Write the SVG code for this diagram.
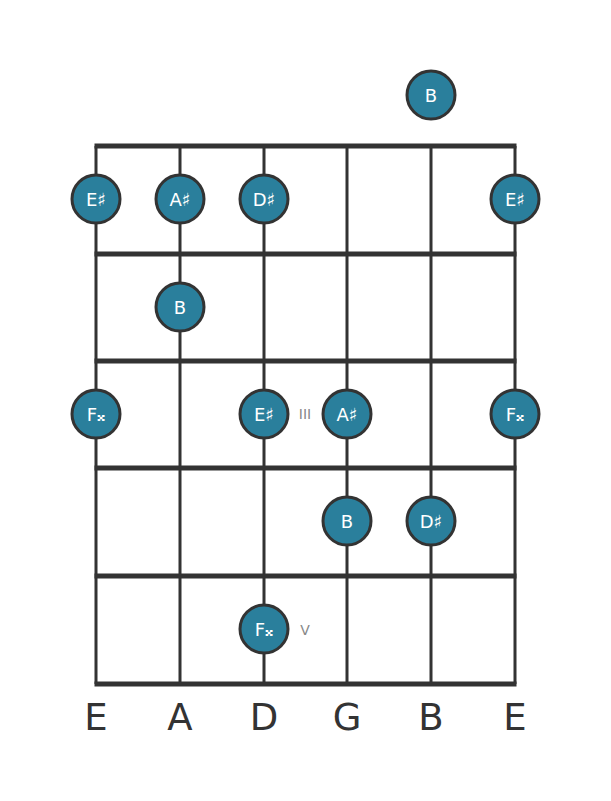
<svg xmlns="http://www.w3.org/2000/svg" width="611" height="801" viewBox="0 0 611 801">
<style>
.fret{stroke:#333;stroke-width:5;fill:none}
.str{stroke:#333;stroke-width:3;fill:none}
.note circle{fill:#2a7f9c;stroke:#333;stroke-width:3}
.note text{fill:#fff;font-family:"DejaVu Sans",sans-serif;font-size:18px;text-anchor:middle;dominant-baseline:central}
.lbl{fill:#333;font-family:"DejaVu Sans",sans-serif;font-size:37px;text-anchor:middle}
.mk{fill:#888;font-family:"DejaVu Sans",sans-serif;font-size:14px;text-anchor:middle;dominant-baseline:central}
</style>
<rect width="611" height="801" fill="#fff"/>
<g id="connectors">
<line class="str" x1="96" y1="146" x2="96" y2="684"/>
<line class="str" x1="180" y1="146" x2="180" y2="684"/>
<line class="str" x1="264" y1="146" x2="264" y2="684"/>
<line class="str" x1="347" y1="146" x2="347" y2="684"/>
<line class="str" x1="431" y1="146" x2="431" y2="684"/>
<line class="str" x1="515" y1="146" x2="515" y2="684"/>
<line class="fret" x1="94.5" y1="146" x2="516.5" y2="146"/>
<line class="fret" x1="94.5" y1="254" x2="516.5" y2="254"/>
<line class="fret" x1="94.5" y1="361" x2="516.5" y2="361"/>
<line class="fret" x1="94.5" y1="468" x2="516.5" y2="468"/>
<line class="fret" x1="94.5" y1="576" x2="516.5" y2="576"/>
<line class="fret" x1="94.5" y1="684" x2="516.5" y2="684"/>
</g>
<g id="markers">
<text class="mk" x="305" y="414">III</text>
<text class="mk" x="305" y="630">V</text>
</g>
<g id="n-open-B" class="note"><circle cx="431" cy="95" r="24"/><text x="431" y="95">B</text></g>
<g id="n1-E" class="note"><circle cx="96" cy="199" r="24"/><text x="96" y="199">E♯</text></g>
<g id="n1-A" class="note"><circle cx="180" cy="199" r="24"/><text x="180" y="199">A♯</text></g>
<g id="n1-D" class="note"><circle cx="264" cy="199" r="24"/><text x="264" y="199">D♯</text></g>
<g id="n1-e" class="note"><circle cx="515" cy="199" r="24"/><text x="515" y="199">E♯</text></g>
<g id="n2-A" class="note"><circle cx="180" cy="307" r="24"/><text x="180" y="307">B</text></g>
<g id="n3-E" class="note"><circle cx="96" cy="414" r="24"/><text x="96" y="414">F𝄪</text></g>
<g id="n3-D" class="note"><circle cx="264" cy="414" r="24"/><text x="264" y="414">E♯</text></g>
<g id="n3-G" class="note"><circle cx="347" cy="414" r="24"/><text x="347" y="414">A♯</text></g>
<g id="n3-e" class="note"><circle cx="515" cy="414" r="24"/><text x="515" y="414">F𝄪</text></g>
<g id="n4-G" class="note"><circle cx="347" cy="521" r="24"/><text x="347" y="521">B</text></g>
<g id="n4-B" class="note"><circle cx="431" cy="521" r="24"/><text x="431" y="521">D♯</text></g>
<g id="n5-D" class="note"><circle cx="264" cy="629" r="24"/><text x="264" y="629">F𝄪</text></g>
<g id="labels">
<text class="lbl" x="96" y="730">E</text>
<text class="lbl" x="180" y="730">A</text>
<text class="lbl" x="264" y="730">D</text>
<text class="lbl" x="347" y="730">G</text>
<text class="lbl" x="431" y="730">B</text>
<text class="lbl" x="515" y="730">E</text>
</g>
</svg>
